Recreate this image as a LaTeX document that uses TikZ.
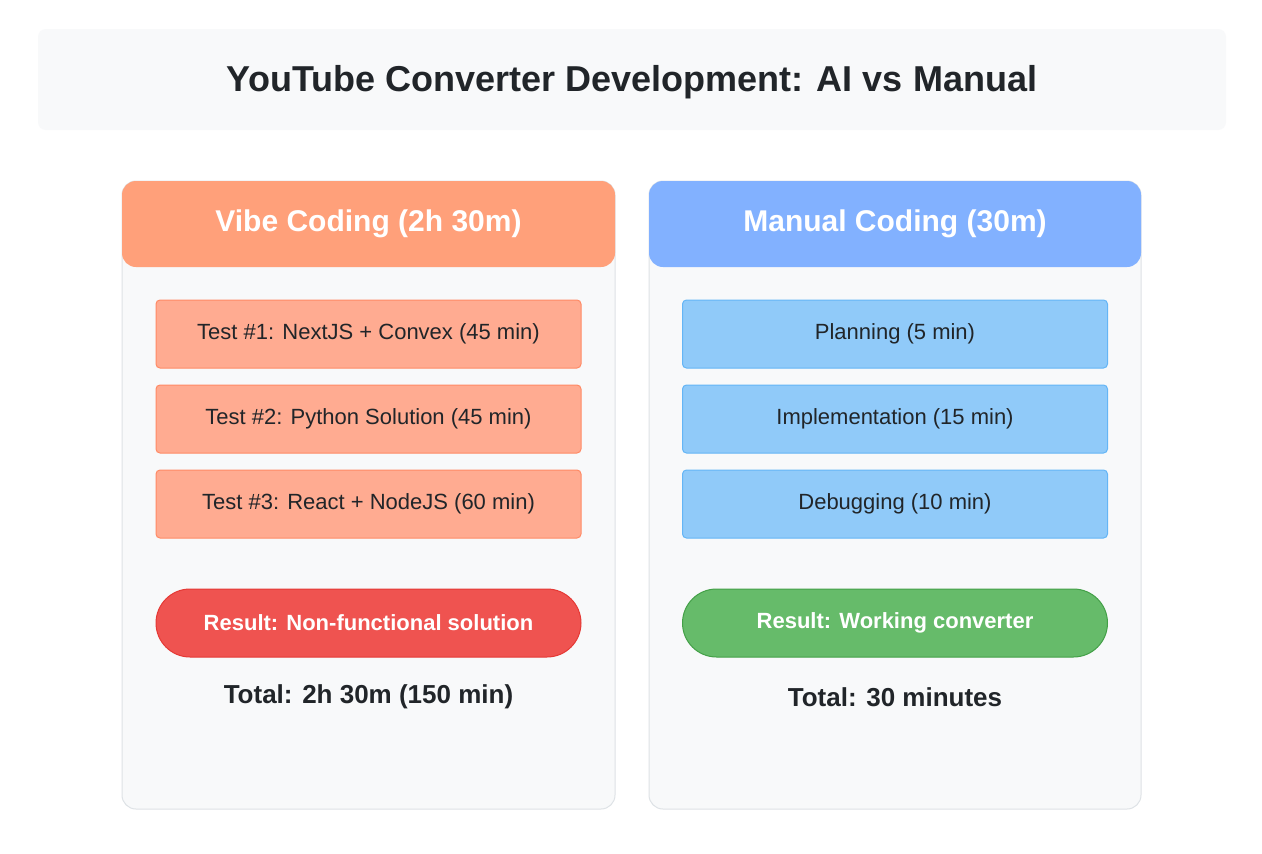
\documentclass[tikz,border=0pt]{standalone}
\usepackage{fontspec}
\setmainfont{Liberation Sans}
\definecolor{bgp}{HTML}{F8F9FA}
\definecolor{bdp}{HTML}{DEE2E6}
\definecolor{hl}{HTML}{FFA07A}
\definecolor{hr}{HTML}{82B1FF}
\definecolor{il}{HTML}{FFAB91}
\definecolor{ilb}{HTML}{FF8A65}
\definecolor{ir}{HTML}{90CAF9}
\definecolor{irb}{HTML}{64B5F6}
\definecolor{rl}{HTML}{EF5350}
\definecolor{rlb}{HTML}{E53935}
\definecolor{rr}{HTML}{66BB6A}
\definecolor{rrb}{HTML}{43A047}
\definecolor{tx}{HTML}{212529}
\tikzset{
 item/.style={draw=#1, line width=1pt, rounded corners=4pt, minimum width=425pt, minimum height=68pt, inner sep=0pt, font=\fontsize{22}{26}\selectfont, text=tx},
 res/.style={draw=#1, line width=1pt, rounded corners=34pt, minimum width=425pt, minimum height=68pt, inner sep=0pt, font=\fontsize{22}{26}\selectfont\bfseries, text=white},
 tot/.style={font=\fontsize{26}{30}\selectfont\bfseries, text=tx},
 hdr/.style={text=white, font=\fontsize{30}{34}\selectfont\bfseries}
}
\begin{document}
\begin{tikzpicture}[x=1pt,y=-1pt]
\useasboundingbox (0,0) rectangle (1262,854);
\fill[white] (0,0) rectangle (1262,854);
\fill[bgp, rounded corners=8pt] (38,29) rectangle (1226,130);
\node[text=tx, font=\fontsize{36}{40}\selectfont\bfseries] (title) at (632,82) {YouTube Converter Development: AI vs Manual};
% left panel
\draw[bdp, fill=bgp, line width=1pt, rounded corners=14pt] (122,181) rectangle (615,809);
\fill[hl, rounded corners=14pt] (122,181) rectangle (615,267);
\node[hdr] (hL) at (368.5,224) {Vibe Coding (2h 30m)};
\node[item=ilb, fill=il] (l1) at (368.5,334) {Test \#1: NextJS + Convex (45 min)};
\node[item=ilb, fill=il] (l2) at (368.5,419) {Test \#2: Python Solution (45 min)};
\node[item=ilb, fill=il] (l3) at (368.5,504) {Test \#3: React + NodeJS (60 min)};
\node[res=rlb, fill=rl] (lr) at (368.5,623) {Result: Non-functional solution};
\node[tot] (lt) at (368.5,697) {Total: 2h 30m (150 min)};
% right panel
\draw[bdp, fill=bgp, line width=1pt, rounded corners=14pt] (649,181) rectangle (1141,809);
\fill[hr, rounded corners=14pt] (649,181) rectangle (1141,267);
\node[hdr] (hR) at (895,224) {Manual Coding (30m)};
\node[item=irb, fill=ir] (r1) at (895,334) {Planning (5 min)};
\node[item=irb, fill=ir] (r2) at (895,419) {Implementation (15 min)};
\node[item=irb, fill=ir] (r3) at (895,504) {Debugging (10 min)};
\node[res=rrb, fill=rr] (rr) at (895,623) {Result: Working converter};
\node[tot] (rt) at (895,697) {Total: 30 minutes};
\end{tikzpicture}
\end{document}
